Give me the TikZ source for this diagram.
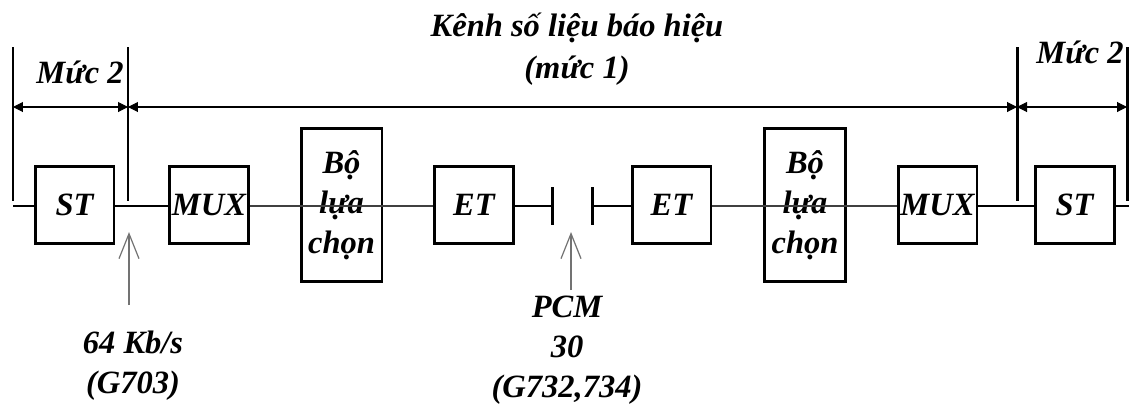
\documentclass[tikz,border=0pt]{standalone}
\usepackage{fontspec}
\setmainfont{Liberation Serif}
\usetikzlibrary{arrows.meta}

\begin{document}
\begin{tikzpicture}[x=0.02cm, y=-0.02cm,
    every node/.style={font=\fontsize{18.5}{22.8}\selectfont\bfseries\itshape, align=center},
    unit/.style={rectangle, draw=black, line width=1.7pt, inner sep=0pt,
                 minimum width=1.58cm, minimum height=1.54cm},
    selbox/.style={rectangle, draw=black, line width=1.7pt, inner sep=0pt,
                   minimum width=1.62cm, minimum height=3.08cm},
    wire/.style={line width=1.1pt},
    thinwire/.style={line width=0.8pt, black!75},
    marker/.style={line width=1.7pt},
    span/.style={{Triangle[length=0.2cm,width=0.2cm]}-{Triangle[length=0.2cm,width=0.2cm]}, line width=0.6pt},
    pointer/.style={-{Straight Barb[length=0.5cm,width=0.4cm]}, line width=0.7pt, black!55},
]
    \useasboundingbox (0,0) rectangle (1129,403);
    % chain of units
    \node[unit] (stL) at (74.5,205) {ST};
    \node[unit] (muxL) at (209,205) {MUX};
    \node[selbox] (selL) at (341.5,205) {Bộ\\ lựa\\ chọn};
    \node[unit] (etL) at (474,205) {ET};
    \node[unit] (etR) at (671.5,205) {ET};
    \node[selbox] (selR) at (805,205) {Bộ\\ lựa\\ chọn};
    \node[unit] (muxR) at (937.5,205) {MUX};
    \node[unit] (stR) at (1074.5,205) {ST};
    \coordinate (inL) at (13,206);
    \coordinate (inR) at (1129,206);
    \coordinate (gapL) at (552,206);
    \coordinate (gapR) at (592,206);
    \draw[wire] (inL) -- (stL.west |- inL);
    \draw[wire] (stL.east |- inL) -- (muxL.west |- inL);
    \draw[thinwire] (muxL.east |- inL) -- (etL.west |- inL);
    \draw[wire] (etL.east |- inL) -- (gapL);
    \draw[wire] (gapR) -- (etR.west |- inR);
    \draw[thinwire] (etR.east |- inR) -- (muxR.west |- inR);
    \draw[wire] (muxR.east |- inR) -- (stR.west |- inR);
    \draw[wire] (stR.east |- inR) -- (inR);
    \draw[marker] (552,187) -- (552,225);
    \draw[marker] (592,187) -- (592,225);
    % level markers
    \coordinate (m1) at (13,107);
    \coordinate (m2) at (128,107);
    \coordinate (m3) at (1017,107);
    \coordinate (m4) at (1127,107);
    \foreach \m in {m1,m2,m3,m4}
        \draw[marker] (\m) ++(0,-60) -- ++(0,154);
    \draw[span] (m1) -- (m2);
    \draw[span] (m2) -- (m3);
    \draw[span] (m3) -- (m4);
    \node (lvlL) at (80,72) {Mức 2};
    \node (lvlR) at (1080,52) {Mức 2};
    \node (title) at (577,49) {Kênh số liệu báo hiệu\\[1pt] (mức 1)};
    % interface labels
    \node (rate) at (133,366) {64 Kb/s\\ (G703)};
    \node (pcm) at (567,350) {PCM\\ 30\\ (G732,734)};
    \coordinate (rateTail) at (129,305);
    \coordinate (rateTip) at (129,232);
    \coordinate (pcmTail) at (571,290);
    \coordinate (pcmTip) at (571,232);
    \draw[pointer] (rateTail) -- (rateTip);
    \draw[pointer] (pcmTail) -- (pcmTip);
\end{tikzpicture}
\end{document}
